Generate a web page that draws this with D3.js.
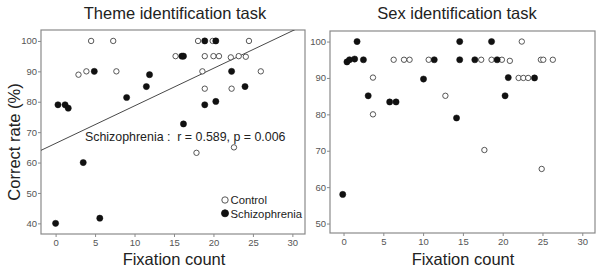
<!DOCTYPE html>
<html>
<head>
<meta charset="utf-8">
<script src="https://cdn.jsdelivr.net/npm/d3@7"></script>
<style>
  body { margin: 0; background: #fff; }
  svg { font-family: "Liberation Sans", Arial, sans-serif; }
</style>
</head>
<body>
<svg id="chart" width="600" height="271"></svg>
<script>
// data: [fixation count, correct rate %]
const themeControl = [
  [4.5, 100], [7.3, 100], [2.9, 88.9], [3.9, 90], [7.7, 90], [18.05, 100], [19.9, 100],
  [24.5, 100], [15.2, 95], [18.9, 95], [20.0, 95], [20.7, 95], [22.2, 94.6], [23.2, 95],
  [24.1, 94.8], [18.6, 90], [26.0, 90], [18.9, 84.3], [22.3, 84.3], [17.85, 63.2], [22.6, 65]
];
const themeSchizo = [
  [4.9, 90], [9.0, 81.4], [0.3, 79], [1.2, 79], [1.6, 77.9], [18.9, 100], [20.3, 100],
  [16.0, 95], [16.2, 95], [22.3, 90], [11.9, 88.9], [11.5, 85], [24.0, 85], [18.9, 79],
  [20.3, 80.1], [16.2, 72.7], [3.5, 60], [0, 40], [5.6, 41.7]
];
const sexControl = [
  [3.7, 90.1], [3.7, 80], [6.3, 95], [7.6, 95], [8.3, 95], [10.7, 95], [12.8, 85.1],
  [22.4, 100], [17.3, 95], [18.6, 95], [19.9, 95], [20.9, 94.7], [24.8, 95], [25.1, 95],
  [26.3, 95], [22.0, 90], [22.6, 90], [23.2, 90], [17.7, 70.2], [24.9, 65]
];
const sexSchizo = [
  [1.7, 100], [0.43, 94.4], [0.75, 95], [1.4, 95.2], [2.5, 95], [3.1, 85.1], [5.8, 83.4],
  [6.6, 83.4], [11.4, 95], [10.05, 89.7], [14.2, 79], [14.6, 100], [14.6, 95], [18.6, 100],
  [16.5, 95], [19.3, 95], [20.7, 90.1], [24.0, 90], [20.3, 85.1], [-0.1, 58]
];
const xTicks = [0, 5, 10, 15, 20, 25, 30];
const yTicksTheme = [40, 50, 60, 70, 80, 90, 100];
const yTicksSex = [50, 60, 70, 80, 90, 100];
// regression line for schizophrenia group (theme task)
const regIntercept = 66.3;
const regSlope = 1.234;

const svg = d3.select("#chart");
const axisColor = "#8a8a8a";
const labelColor = "#555";

function panel(opts) {
  const x = d3.scaleLinear().domain(opts.xDomain).range([opts.left, opts.right]);
  const y = d3.scaleLinear().domain(opts.yDomain).range([opts.bottom, opts.top]);
  const g = svg.append("g");

  // frame
  g.append("rect")
    .attr("x", opts.left).attr("y", opts.top)
    .attr("width", opts.right - opts.left).attr("height", opts.bottom - opts.top)
    .attr("fill", "none").attr("stroke", axisColor).attr("stroke-width", 1.2);

  // axes
  const xa = g.append("g")
    .attr("transform", `translate(0,${opts.bottom})`)
    .call(d3.axisBottom(x).tickValues(xTicks).tickSize(3).tickPadding(2));
  const ya = g.append("g")
    .attr("transform", `translate(${opts.left},0)`)
    .call(d3.axisLeft(y).tickValues(opts.yTicks).tickSize(3).tickPadding(1));
  [xa, ya].forEach(a => {
    a.select(".domain").remove();
    a.selectAll("line").attr("stroke", axisColor);
    a.selectAll("text").attr("fill", labelColor).style("font-size", "9.5px")
      .style("font-family", "'Liberation Sans', Arial, sans-serif");
  });

  // title and x label
  g.append("text")
    .attr("x", opts.titleX).attr("y", 19)
    .attr("text-anchor", "middle").attr("fill", "#222")
    .style("font-size", "16.5px").text(opts.title);
  g.append("text")
    .attr("x", opts.xLabelX).attr("y", 265)
    .attr("text-anchor", "middle").attr("fill", "#222")
    .style("font-size", "16.5px").text("Fixation count");

  return { x, y, g };
}

const left = panel({
  left: 41, right: 305, top: 30, bottom: 234,
  xDomain: [-1.85, 31.6], yDomain: [36.5, 103.6], yTicks: yTicksTheme,
  title: "Theme identification task", titleX: 175, xLabelX: 174
});
const right = panel({
  left: 330, right: 595, top: 31, bottom: 233,
  xDomain: [-1.7, 31.6], yDomain: [47.4, 102.9], yTicks: yTicksSex,
  title: "Sex identification task", titleX: 457, xLabelX: 463
});

// y label
svg.append("text")
  .attr("transform", "translate(20,142) rotate(-90)")
  .attr("text-anchor", "middle").attr("fill", "#222")
  .style("font-size", "16.5px").text("Correct rate (%)");

// regression line, clipped to the left frame
svg.append("clipPath").attr("id", "clipL")
  .append("rect").attr("x", 41).attr("y", 30).attr("width", 264).attr("height", 204);
const xd = left.x.domain();
left.g.append("line")
  .attr("clip-path", "url(#clipL)")
  .attr("x1", left.x(xd[0])).attr("y1", left.y(regIntercept + regSlope * xd[0]))
  .attr("x2", left.x(xd[1])).attr("y2", left.y(regIntercept + regSlope * xd[1]))
  .attr("stroke", "#333").attr("stroke-width", 0.9);

left.g.append("text")
  .attr("x", 85).attr("y", 141)
  .attr("fill", "#222").style("font-size", "12.4px")
  .style("white-space", "pre")
  .text("Schizophrenia :  r = 0.589, p = 0.006");

function dots(p, data, filled) {
  p.g.append("g").selectAll("circle")
    .data(data).join("circle")
    .attr("cx", d => p.x(d[0]))
    .attr("cy", d => p.y(d[1]))
    .attr("r", filled ? 3.1 : 2.7)
    .attr("fill", filled ? "#111" : "#fff")
    .attr("stroke", filled ? "#111" : "#444")
    .attr("stroke-width", filled ? 0.5 : 0.9);
}
dots(left, themeControl, false);
dots(left, themeSchizo, true);
dots(right, sexControl, false);
dots(right, sexSchizo, true);

// legend
const legend = left.g.append("g");
const legendItems = [["Control", false], ["Schizophrenia", true]];
legendItems.forEach(([name, filled], i) => {
  legend.append("circle")
    .attr("cx", 225).attr("cy", 200 + i * 13.3).attr("r", filled ? 3.5 : 3.2)
    .attr("fill", filled ? "#111" : "#fff")
    .attr("stroke", filled ? "#111" : "#444").attr("stroke-width", 0.9);
  legend.append("text")
    .attr("x", 230.5).attr("y", 204.2 + i * 13.3)
    .attr("fill", "#222").style("font-size", "11.3px").text(name);
});
</script>
</body>
</html>
